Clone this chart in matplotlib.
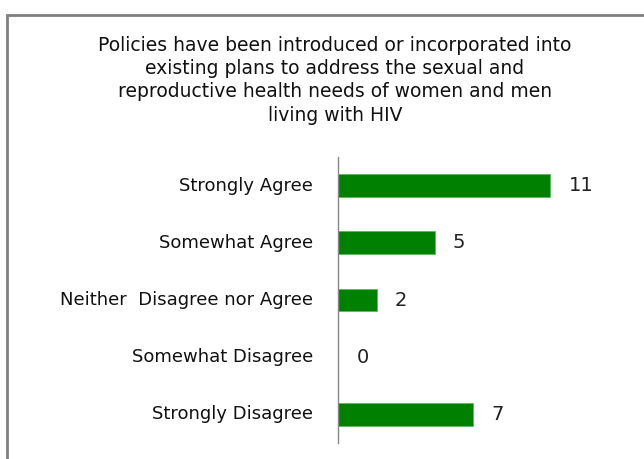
import matplotlib.pyplot as plt
from matplotlib.patches import Rectangle

# Survey responses
categories = ['Strongly Agree', 'Somewhat Agree', 'Neither  Disagree nor Agree',
              'Somewhat Disagree', 'Strongly Disagree']
counts = [11, 5, 2, 0, 7]
title = ('Policies have been introduced or incorporated into\n'
         'existing plans to address the sexual and\n'
         'reproductive health needs of women and men\n'
         'living with HIV')

plt.rcParams['font.family'] = ['DejaVu Sans']

fig = plt.figure(figsize=(6.44, 4.59), dpi=100)
ax = fig.add_axes([338/644, 1 - 443/459, 280/644, 286/459])

pos = list(range(len(categories)))
ax.barh(pos, counts, height=0.4, color='#008000', edgecolor='#5cb85c', linewidth=0.6)
for y, v in zip(pos, counts):
    ax.text(v + 0.95, y, str(v), va='center', ha='left', fontsize=14, color='#222222')

ax.set_ylim(4.5, -0.5)
ax.set_xlim(0, 14.5)
ax.set_yticks(pos)
ax.set_yticklabels(categories, fontsize=13, color='#111111', va='center')
ax.tick_params(axis='y', length=0, pad=18)
ax.set_xticks([])
for s in ['top', 'right', 'bottom']:
    ax.spines[s].set_visible(False)
ax.spines['left'].set_color('#888888')
ax.spines['left'].set_linewidth(1)

fig.text(335/644, 1 - 36/459, title, ha='center', va='top', fontsize=13.5,
         linespacing=1.28, color='#111111')

# chart frame
fig.add_artist(Rectangle((7/644, -0.2), 1.2, 1.2 - 15/459, transform=fig.transFigure,
                         fill=False, edgecolor='#808080', linewidth=2))

fig.savefig('out.png', dpi=100)
